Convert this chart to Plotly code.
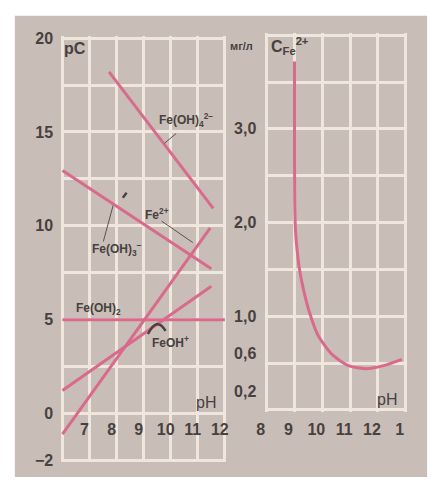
import plotly.graph_objects as go

W, H = 434, 486

# ---- pC–pH diagram: end points of each species line (pH, pC) ----
feoh4_ph = [7.72, 11.57]
feoh4_pc = [18.2, 10.93]
feoh3_ph = [6.0, 11.5]
feoh3_pc = [12.95, 7.71]
fe2_ph = [6.0, 11.46]
fe2_pc = [-1.1, 9.89]
feoh_ph = [6.0, 11.5]
feoh_pc = [1.23, 6.78]
feoh2_ph = [6.0, 12.0]
feoh2_pc = [5.0, 5.0]

# ---- residual Fe2+ concentration (mg/l) vs pH ----
c_ph = [9.0, 9.0, 9.01, 9.04, 9.08, 9.18, 9.32, 9.53, 9.84, 10.36, 10.96, 11.57, 12.17, 12.86]
c_mg = [3.72, 2.9, 2.2, 1.9, 1.75, 1.5, 1.29, 1.05, 0.80, 0.59, 0.47, 0.44, 0.47, 0.54]

# ---- tick labels ----
left_xticks = [7, 8, 9, 10, 11, 12]
left_yticks = [-2.5, 0, 5, 10, 15, 20]
left_ytext = ["−2", "0", "5", "10", "15", "20"]
right_xticks = [8, 9, 10, 11, 12, 13]
right_xtext = ["8", "9", "10", "11", "12", "1"]
right_yticks = [0.2, 0.6, 1.0, 2.0, 3.0]
right_ytext = ["0,2", "0,6", "1,0", "2,0", "3,0"]

BG = "#c9beb7"
GRID = "#efe7de"
RED = "#d96a8c"
INK = "#474140"
FONT = "Liberation Sans, Arial"


def fx(p):
    return p / W


def fy(p):
    return 1 - p / H


def dom(p0, p1, v0, v1, r, horiz):
    s = (p1 - p0) / (v1 - v0)
    a = p0 + (r[0] - v0) * s
    b = p0 + (r[1] - v0) * s
    return [fx(a), fx(b)] if horiz else [fy(a), fy(b)]


l_xr = [5.95, 12.05]
l_yr = [-2.6, 20.1]
r_xr = [7.95, 13.05]
r_yr = [-0.02, 4.02]

fig = go.Figure()

line_style = dict(color=RED, width=3)
for xs, ys in [(feoh4_ph, feoh4_pc), (feoh3_ph, feoh3_pc), (fe2_ph, fe2_pc),
               (feoh_ph, feoh_pc), (feoh2_ph, feoh2_pc)]:
    fig.add_trace(go.Scatter(x=xs, y=ys, mode="lines", line=line_style,
                             xaxis="x", yaxis="y", showlegend=False, hoverinfo="skip"))

fig.add_trace(go.Scatter(x=c_ph, y=c_mg, mode="lines",
                         line=dict(color=RED, width=3, shape="spline", smoothing=0.7),
                         xaxis="x2", yaxis="y3", showlegend=False, hoverinfo="skip"))

tickfont = dict(family=FONT, size=16, color=INK, weight="bold")
grid = dict(showgrid=True, gridcolor=GRID, gridwidth=2.5)

fig.update_layout(
    width=W, height=H,
    margin=dict(l=0, r=0, t=0, b=0),
    paper_bgcolor="white",
    plot_bgcolor=BG,
    showlegend=False,
    xaxis=dict(domain=dom(55, 222, 6, 12, l_xr, True), range=l_xr,
               anchor="free", position=fy(423),
               tickvals=left_xticks, ticks="", showline=False, zeroline=False,
               tickfont=tickfont, ticklabelstandoff=0, ticklabelshift=-5,
               minor=dict(tick0=6, dtick=1, **grid), **grid),
    yaxis=dict(domain=dom(467, 33, -2.5, 20, l_yr, False), range=l_yr, anchor="x",
               tickvals=left_yticks, ticktext=left_ytext, ticks="", showline=False,
               zeroline=False, tickfont=tickfont, ticklabelstandoff=7,
               minor=dict(tick0=0, dtick=2.5, **grid), **grid),
    xaxis2=dict(domain=dom(265, 408, 8, 13, r_xr, True), range=r_xr,
                anchor="free", position=fy(423),
                tickvals=right_xticks, ticktext=right_xtext, ticks="", showline=False,
                zeroline=False, tickfont=tickfont, ticklabelstandoff=0, ticklabelshift=-6,
                **grid),
    yaxis2=dict(domain=dom(415, 30, 0, 4, r_yr, False), range=r_yr, anchor="x2",
                dtick=0.5, tick0=0, showticklabels=False, ticks="", showline=False,
                zeroline=False, **grid),
    yaxis3=dict(range=r_yr, overlaying="y2", anchor="x2", side="left",
                tickvals=right_yticks, ticktext=right_ytext, ticks="", showline=False,
                zeroline=False, showgrid=False, tickfont=tickfont, ticklabelstandoff=8),
)

# page background
fig.add_shape(type="rect", xref="paper", yref="paper", x0=fx(6), x1=fx(430), y0=fy(484), y1=fy(10),
              fillcolor=BG, line=dict(width=0), layer="below")

lab = dict(family=FONT, size=12, color=INK, weight="bold")
big = dict(family=FONT, size=16, color=INK, weight="bold")


def ann(x, y, text, font, xref="x", yref="y", xanchor="left"):
    fig.add_annotation(x=x, y=y, xref=xref, yref=yref, text=text, showarrow=False,
                       font=font, xanchor=xanchor, yanchor="middle")


ann(6.47, 19.43, "pC", big, xanchor="center")
ann(9.49, 15.65, "Fe(OH)<sub>4</sub><sup>2−</sup>", lab)
ann(8.98, 10.62, "Fe<sup>2+</sup>", lab)
ann(7.0, 8.75, "Fe(OH)<sub>3</sub><sup>−</sup>", lab)
ann(6.43, 5.59, "Fe(OH)<sub>2</sub>", lab)
ann(9.23, 3.83, "FeOH<sup>+</sup>", lab)
ann(11.32, 0.61, "pH", dict(family=FONT, size=16, color=INK), xanchor="center")

ann(12.34, 0.114, "pH", dict(family=FONT, size=16, color=INK), xref="x2", yref="y2", xanchor="center")
ann(8.07, 3.886, "C<sub>Fe</sub><sup>2+</sup>", big, xref="x2", yref="y2")
ann(fx(239), fy(41), "мг/л", dict(family=FONT, size=11, color=INK, weight="bold"),
    xref="paper", yref="paper", xanchor="center")

# label leaders
thin = dict(color="#5a5350", width=1)
for x0, y0, x1, y1 in [(9.77, 14.40, 10.20, 14.92),
                       (9.665, 10.25, 10.815, 9.11),
                       (7.51, 9.17, 7.87, 11.08)]:
    fig.add_shape(type="line", xref="x", yref="y", x0=x0, y0=y0, x1=x1, y1=y1, line=thin)
fig.add_shape(type="line", xref="x", yref="y", x0=8.23, y0=11.50, x1=8.37, y1=11.76,
              line=dict(color=INK, width=2.5))
fig.add_shape(type="path", xref="x", yref="y", path="M 9.16,4.24 Q 9.49,5.20 9.81,4.40",
              line=dict(color=INK, width=2.5))

fig.write_html("out.html")
